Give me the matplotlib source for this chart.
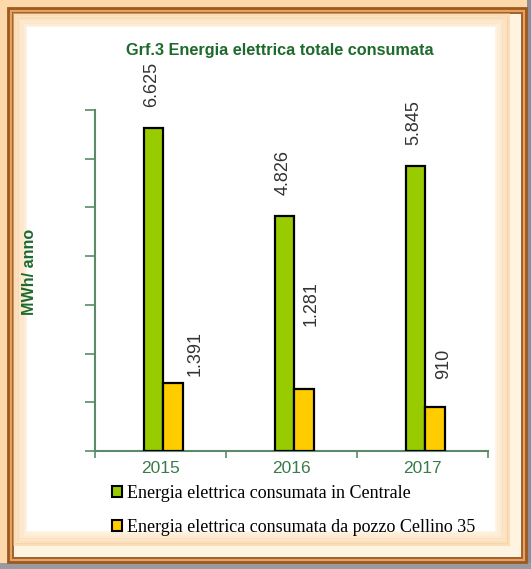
import matplotlib
matplotlib.use("Agg")
import matplotlib.pyplot as plt
from matplotlib.patches import Rectangle, Patch
from matplotlib.ticker import MultipleLocator, FixedLocator
import numpy as np

# ---- data ----
years = ["2015", "2016", "2017"]
centrale = [6625, 4826, 5845]
pozzo = [1391, 1281, 910]
centrale_labels = ["6.625", "4.826", "5.845"]
pozzo_labels = ["1.391", "1.281", "910"]
series_names = ["Energia elettrica consumata in Centrale",
                "Energia elettrica consumata da pozzo Cellino 35"]
title = "Grf.3 Energia elettrica totale consumata"
ylabel = "MWh/ anno"

# label placement (layout only, in points)
pozzo_label_dy = [5, 45, 20]
pozzo_label_dx = [16, 5, 6]

W, H = 531, 569
fig = plt.figure(figsize=(W / 100, H / 100), dpi=100)
fig.patch.set_facecolor("#fcd8ab")

def frect(x0, y0, x1, y1, **kw):
    r = Rectangle((x0 / W, 1 - y1 / H), (x1 - x0) / W, (y1 - y0) / H,
                  transform=fig.transFigure, **kw)
    fig.add_artist(r)
    return r

# frame
frect(0, 0, W, H, facecolor="#fcd8ab", edgecolor="none", zorder=-10)
frect(527, 0, W, H, facecolor="#8a8f9a", edgecolor="none", zorder=-9)
frect(0, 563, W, H, facecolor="#9a9aa0", edgecolor="none", zorder=-9)
frect(8, 8, 526, 562, facecolor="#e9a060", edgecolor="#9a5a22", lw=2.0, zorder=-8)
frect(12.5, 12.5, 522, 558, facecolor="#fff3e2", edgecolor="#a0622a", lw=1.4, zorder=-7)
for i, a in enumerate([0.5, 0.4, 0.3, 0.2, 0.1]):
    d = 14 + i * 2.5
    frect(d, d, W - d - 9, H - d - 11, facecolor="none",
          edgecolor="#f8c890", lw=2.2, alpha=a, zorder=-6)
frect(27, 27, W - 36, H - 38, facecolor="white", edgecolor="none", zorder=-5)

sans = ["Liberation Sans", "DejaVu Sans"]
green_dark = "#1e6a2c"
axis_col = "#5a8a68"

ax = fig.add_axes([95 / W, 1 - 451 / H, (488 - 95) / W, (451 - 110) / H])
ax.set_facecolor("none")
x = np.arange(len(years))
bw = 0.148
shift = 0.02
ax.bar(x + shift - bw / 2, centrale, width=bw, color="#99cc00",
       edgecolor="black", linewidth=1.6, zorder=3)
ax.bar(x + shift + bw / 2, pozzo, width=bw, color="#ffcc00",
       edgecolor="black", linewidth=1.6, zorder=3)

for i in range(len(years)):
    ax.annotate(centrale_labels[i], (x[i] + shift - bw / 2, centrale[i]),
                xytext=(-1, 15), textcoords="offset points",
                rotation=90, ha="center", va="bottom",
                fontsize=13, family=sans, color="#333333")
    ax.annotate(pozzo_labels[i], (x[i] + shift + bw / 2, pozzo[i]),
                xytext=(pozzo_label_dx[i], pozzo_label_dy[i]),
                textcoords="offset points",
                rotation=90, ha="center", va="bottom",
                fontsize=13, family=sans, color="#333333")

ax.set_xlim(-0.5, 2.5)
ax.set_ylim(0, 7000)
ax.yaxis.set_major_locator(MultipleLocator(1000))
ax.set_yticklabels([])
ax.tick_params(axis="y", direction="out", length=7, width=1.2, color=axis_col)
ax.set_xticks(x)
ax.set_xticklabels(years, fontsize=12.5, family=sans, color="#3a7a4c")
ax.xaxis.set_minor_locator(FixedLocator([-0.5, 0.5, 1.5, 2.5]))
ax.tick_params(axis="x", which="major", length=0, pad=7)
ax.tick_params(axis="x", which="minor", direction="out", length=5,
               width=1.2, color=axis_col)
for s in ["top", "right"]:
    ax.spines[s].set_visible(False)
for s in ["left", "bottom"]:
    ax.spines[s].set_color(axis_col)
    ax.spines[s].set_linewidth(1.5)

fig.text(280 / W, 1 - 51 / H, title, ha="center", va="center",
         fontsize=11.7, fontweight="bold", family=sans, color=green_dark)
fig.text(29 / W, 1 - 272 / H, ylabel, ha="center", va="center", rotation=90,
         fontsize=11.6, fontweight="bold", family=sans, color=green_dark)

handles = [Patch(facecolor="#99cc00", edgecolor="black", linewidth=1.5),
           Patch(facecolor="#ffcc00", edgecolor="black", linewidth=1.5)]
fig.legend(handles, series_names, loc="upper left",
           bbox_to_anchor=(112 / W, 1 - 485 / H), frameon=False,
           prop={"family": ["Liberation Serif", "DejaVu Serif"], "size": 13},
           handlelength=0.55, handleheight=0.55, handletextpad=0.3,
           labelspacing=0.95, borderpad=0, borderaxespad=0)

fig.savefig("out.png", dpi=100, facecolor=fig.get_facecolor())
